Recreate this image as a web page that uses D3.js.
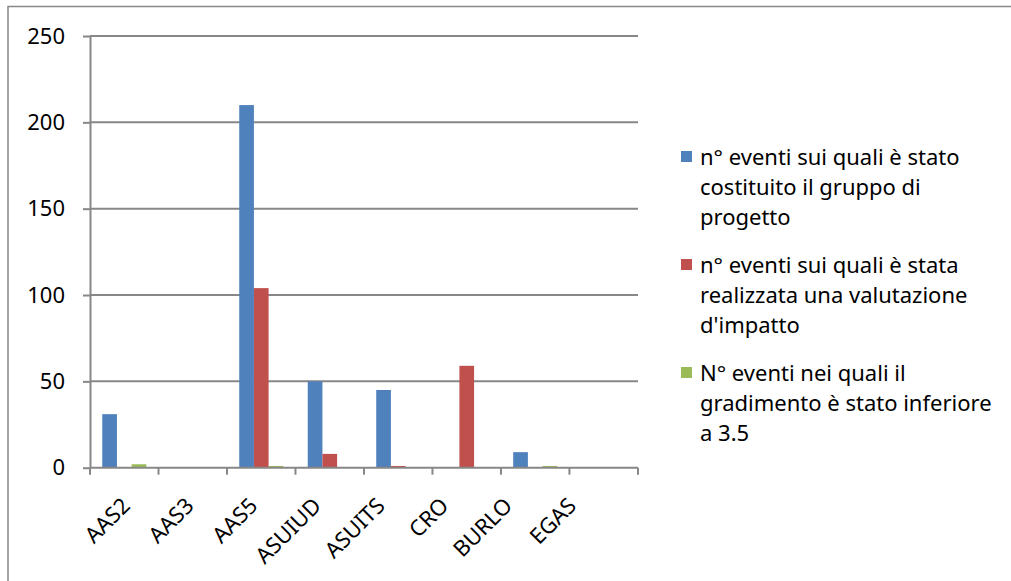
<!DOCTYPE html>
<html>
<head>
<meta charset="utf-8">
<script src="https://cdn.jsdelivr.net/npm/d3@7"></script>
<style>
  html, body { margin: 0; padding: 0; background: #fff; }
  svg { display: block; font-family: "Noto Sans", "Open Sans", sans-serif; }
</style>
</head>
<body>
<svg id="chart" width="1011" height="581"></svg>
<script>
// Categories (healthcare bodies) and the three event counts per body
const categories = ["AAS2", "AAS3", "AAS5", "ASUIUD", "ASUITS", "CRO", "BURLO", "EGAS"];
const gruppoProgetto = [31, 0, 210, 50, 45, 0, 9, 0];
const valutazioneImpatto = [0, 0, 104, 8, 1, 59, 0, 0];
const gradimentoBasso = [2, 0, 1, 0, 0, 0, 1, 0];
const yTicks = [0, 50, 100, 150, 200, 250];

const seriesNames = [
  ["n° eventi sui quali è stato", "costituito il gruppo di", "progetto"],
  ["n° eventi sui quali è stata", "realizzata una valutazione", "d'impatto"],
  ["N° eventi nei quali il", "gradimento è stato inferiore", "a 3.5"]
];
const seriesValues = [gruppoProgetto, valutazioneImpatto, gradimentoBasso];
const seriesColors = ["#4F81BD", "#C0504D", "#9BBB59"];

const svg = d3.select("#chart");
const gridColor = "#878787";

// Frame of the chart area (top and left edges)
svg.append("path")
  .attr("d", "M8,581 V6.5 H1011")
  .attr("fill", "none")
  .attr("stroke", gridColor)
  .attr("stroke-width", 1.5);

const plot = { left: 90, right: 638, top: 36, bottom: 467.7 };

const x0 = d3.scaleBand()
  .domain(categories)
  .range([plot.left, plot.right])
  .paddingInner(0.357)
  .paddingOuter(0.179);

const x1 = d3.scaleBand()
  .domain(d3.range(seriesValues.length))
  .range([0, x0.bandwidth()]);

const y = d3.scaleLinear().domain([0, 250]).range([plot.bottom, plot.top]);

// Horizontal gridlines
svg.append("g")
  .selectAll("line")
  .data(yTicks.filter(t => t > 0))
  .join("line")
  .attr("x1", plot.left)
  .attr("x2", plot.right)
  .attr("y1", d => y(d))
  .attr("y2", d => y(d))
  .attr("stroke", gridColor)
  .attr("stroke-width", 2);

// Bars
const rows = categories.map((c, i) => ({ cat: c, vals: seriesValues.map(s => s[i]) }));
svg.append("g")
  .selectAll("g")
  .data(rows)
  .join("g")
  .attr("transform", d => `translate(${x0(d.cat)},0)`)
  .selectAll("rect")
  .data(d => d.vals.map((v, k) => ({ v, k })).filter(e => e.v > 0))
  .join("rect")
  .attr("x", e => x1(e.k))
  .attr("width", x1.bandwidth())
  .attr("y", e => y(e.v))
  .attr("height", e => y(0) - y(e.v))
  .attr("fill", e => seriesColors[e.k]);

// Y axis
const yAxis = svg.append("g")
  .attr("transform", `translate(${plot.left},0)`)
  .call(d3.axisLeft(y).tickValues(yTicks).tickSize(7).tickPadding(18).tickSizeOuter(0));
yAxis.select(".domain").attr("stroke", gridColor).attr("stroke-width", 2);
yAxis.selectAll(".tick line").attr("stroke", gridColor).attr("stroke-width", 2);
yAxis.selectAll(".tick text")
  .attr("fill", "#000")
  .style("font-size", "22px")
  .style("font-family", "'Noto Sans', sans-serif");

// X axis: category boundary ticks
const xAxisG = svg.append("g").attr("transform", `translate(0,${plot.bottom})`);
xAxisG.append("line")
  .attr("x1", plot.left).attr("x2", plot.right)
  .attr("stroke", gridColor).attr("stroke-width", 2);
const boundaries = categories.map(c => x0(c) - x0.step() * x0.paddingOuter()).concat([plot.right]);
xAxisG.selectAll("line.tk")
  .data(boundaries)
  .join("line")
  .attr("class", "tk")
  .attr("x1", d => d).attr("x2", d => d)
  .attr("y1", 0).attr("y2", 7)
  .attr("stroke", gridColor).attr("stroke-width", 2);

// Rotated category labels
const labelX = d3.scalePoint().domain(categories).range([126, 572]);
svg.append("g")
  .selectAll("text")
  .data(categories)
  .join("text")
  .attr("transform", d => `translate(${labelX(d)},${plot.bottom + 34}) rotate(-45)`)
  .attr("text-anchor", "end")
  .attr("dy", "0.35em")
  .style("font-size", "22px")
  .text(d => d);

// Legend
const legend = svg.append("g").attr("transform", "translate(681,0)");
const legendTop = 157;
seriesNames.forEach((lines, k) => {
  const gy = legendTop + k * 108;
  legend.append("rect")
    .attr("x", 0).attr("y", gy - 6)
    .attr("width", 11).attr("height", 11)
    .attr("fill", seriesColors[k]);
  const t = legend.append("text")
    .attr("x", 19).attr("y", gy)
    .style("font-size", "22px");
  lines.forEach((ln, j) => {
    t.append("tspan").attr("x", 19).attr("y", gy + j * 30).attr("dy", "0.35em").text(ln);
  });
});
</script>
</body>
</html>
